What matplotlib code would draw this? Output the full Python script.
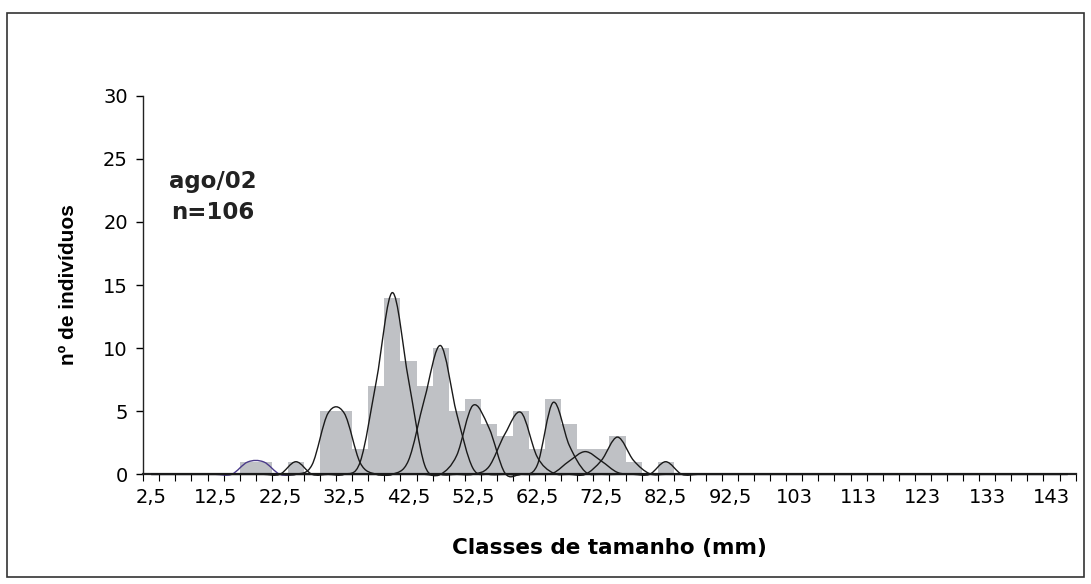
import numpy as np
import matplotlib
matplotlib.use('Agg')
import matplotlib.pyplot as plt
from matplotlib.path import Path
from matplotlib.patches import PathPatch, Rectangle

plt.rcParams['font.family'] = ['DejaVu Sans']

# ---------- classes de tamanho (mm), largura 2,5 mm ----------
classes = [2.5, 5.0, 7.5, 10.0, 12.5, 15.0, 17.5, 20.0, 22.5, 25.0,
           27.5, 30.0, 32.5, 35.0, 37.5, 40.0, 42.5, 45.0, 47.5, 50.0,
           52.5, 55.0, 57.5, 60.0, 62.5, 65.0, 67.5, 70.0, 72.5, 75.0,
           77.5, 80.0, 82.5, 85.0, 87.5, 90.0, 92.5, 95.0, 97.5, 100.0,
           102.5, 105.0, 107.5, 110.0, 112.5, 115.0, 117.5, 120.0, 122.5, 125.0,
           127.5, 130.0, 132.5, 135.0, 137.5, 140.0, 142.5, 145.0]

# frequencia observada (n=106)
freq = [0, 0, 0, 0, 0, 0, 1, 1, 0, 1,
        0, 5, 5, 2, 7, 14, 9, 7, 10, 5,
        6, 4, 3, 5, 2, 6, 4, 2, 2, 3,
        1, 0, 1, 0, 0, 0, 0, 0, 0, 0,
        0, 0, 0, 0, 0, 0, 0, 0, 0, 0,
        0, 0, 0, 0, 0, 0, 0, 0]

tick_labels = ['2,5', '12,5', '22,5', '32,5', '42,5', '52,5', '62,5', '72,5',
               '82,5', '92,5', '103', '113', '123', '133', '143']

# componentes normais ajustadas {classe: valor}, zero nas outras classes
comp_1 = {17.5: 0.98, 20.0: 0.98}
comp_2 = {25.0: 1.0}
comp_3 = {27.5: 0.75, 30.0: 4.85, 32.5: 4.85, 35.0: 0.9}
comp_4 = {35.0: 1.0, 37.5: 7.4, 40.0: 14.4, 42.5: 7.5, 45.0: 0.75}
comp_5 = {42.5: 1.1, 45.0: 6.0, 47.5: 10.2, 50.0: 4.8, 52.5: 0.5}
comp_6 = {50.0: 1.5, 52.5: 5.45, 55.0: 3.7, 57.5: 0.1}
comp_7 = {55.0: 0.6, 57.5: 3.2, 60.0: 4.9, 62.5: 1.4, 65.0: 0.1}
comp_8 = {62.5: 0.7, 65.0: 5.7, 67.5: 2.3, 70.0: 0.2}
comp_9 = {65.0: 0.1, 67.5: 1.05, 70.0: 1.8, 72.5: 1.05, 75.0: 0.15}
comp_10 = {72.5: 1.1, 75.0: 2.95, 77.5: 1.1, 80.0: 0.05}
comp_11 = {82.5: 1.0}

componentes = [comp_1, comp_2, comp_3, comp_4, comp_5, comp_6,
               comp_7, comp_8, comp_9, comp_10, comp_11]
cores = ['#4a3a8a'] + ['#1a1a1a'] * 10


def linha_suave(xs, ys):
    # linha suavizada tipo Excel (Catmull-Rom -> Bezier cubica)
    pts = np.column_stack([xs, ys])
    n = len(pts)
    verts = [pts[0]]
    codes = [Path.MOVETO]
    for i in range(n - 1):
        p0 = pts[max(i - 1, 0)]
        p1 = pts[i]
        p2 = pts[i + 1]
        p3 = pts[min(i + 2, n - 1)]
        verts += [p1 + (p2 - p0) / 6, p2 - (p3 - p1) / 6, p2]
        codes += [Path.CURVE4] * 3
    return Path(verts, codes)


fig = plt.figure(figsize=(10.91, 5.84), dpi=100)
ax = fig.add_axes([0.1313, 0.1878, 0.8546, 0.6483])

pos = np.arange(len(classes))
ax.bar(pos + 0.5, freq, width=1.0, color='#bfc1c5', edgecolor='none', zorder=1)

for comp, cor in zip(componentes, cores):
    vals = [comp.get(c, 0.0) for c in classes]
    ax.add_patch(PathPatch(linha_suave(pos + 0.5, vals), facecolor='none',
                           edgecolor=cor, lw=1.0, zorder=3, clip_on=False))

ax.set_xlim(0, len(classes))
ax.set_ylim(0, 30)

# eixos
for s in ['top', 'right']:
    ax.spines[s].set_visible(False)
ax.spines['left'].set_linewidth(1.0)
ax.spines['bottom'].set_linewidth(1.6)
ax.spines['left'].set_color('#222222')
ax.spines['bottom'].set_color('#222222')

ax.set_yticks(range(0, 31, 5))
ax.tick_params(axis='y', direction='out', length=5, width=1.0, labelsize=14, pad=6)

ax.set_xticks(np.arange(0, len(classes) + 1))
ax.set_xticklabels([])
ax.tick_params(axis='x', which='major', direction='out', length=5, width=0.8)
ax.set_xticks(np.arange(0, len(classes), 4) + 0.5, minor=True)
ax.set_xticklabels(tick_labels, minor=True)
ax.tick_params(axis='x', which='minor', length=0, labelsize=14, pad=10)

ax.set_xlabel('Classes de tamanho (mm)', fontsize=15.5, fontweight='bold', labelpad=22)
ax.set_ylabel('nº de indivíduos', fontsize=15, fontweight='bold', labelpad=18,
              family=['Liberation Sans', 'DejaVu Sans'])

ax.text(0.075, 0.732, 'ago/02\nn=106', transform=ax.transAxes, ha='center', va='center',
        fontsize=16.5, fontweight='bold', color='#222222', linespacing=1.45)

# moldura do grafico
fig.patches.append(Rectangle((7 / 1091, 1 - 577 / 584), 1077 / 1091, 564 / 584,
                             transform=fig.transFigure, fill=False,
                             edgecolor='#333333', lw=1.2))

fig.savefig('out.png', dpi=100)
